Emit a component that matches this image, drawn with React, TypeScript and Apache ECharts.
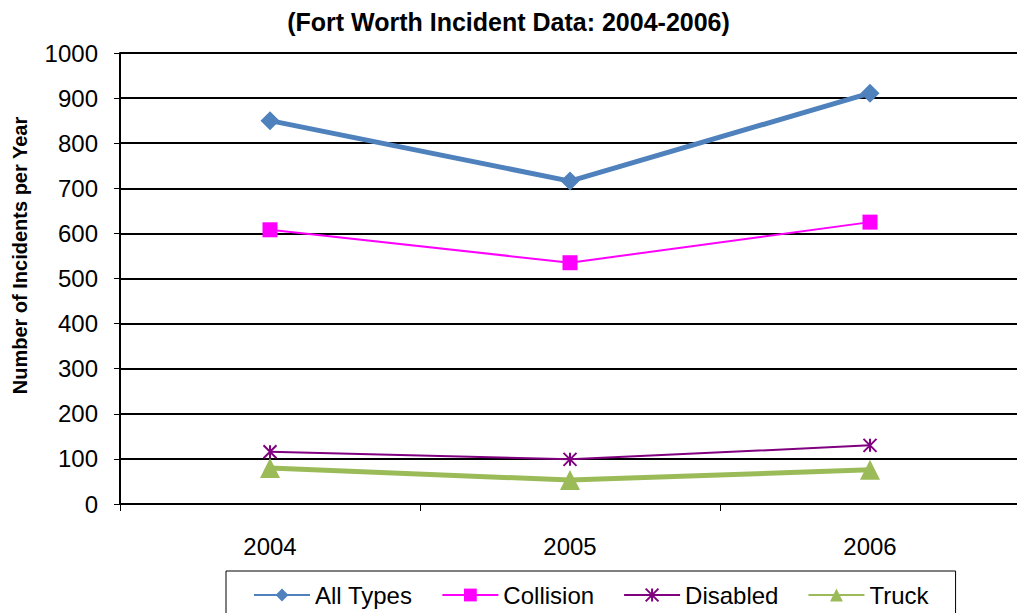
import React, { useEffect, useRef } from "react";
import * as echarts from "echarts";

const years = ["2004", "2005", "2006"];
const allTypes = [850, 716, 911];
const collision = [608, 535, 625];
const disabled = [116, 99, 130];
const truck = [80, 53, 76];
const yTicks = { min: 0, max: 1000, interval: 100 };

const FONT = "Liberation Sans, Arial, sans-serif";
const STAR = "path://M0,0L10,10M10,0L0,10M5,0L5,10";

export default function App() {
  const ref = useRef<HTMLDivElement>(null);
  useEffect(() => {
    const chart = echarts.init(ref.current!, null, { renderer: "svg" });
    chart.setOption({
      animation: false,
      backgroundColor: "#fff",
      textStyle: { fontFamily: FONT },
      title: {
        text: "(Fort Worth Incident Data: 2004-2006)",
        left: "center",
        top: 4,
        textStyle: { fontFamily: FONT, fontSize: 25, fontWeight: "bold", color: "#000" },
      },
      legend: {
        top: 571,
        left: 226,
        itemWidth: 56,
        itemHeight: 16,
        itemGap: 29,
        padding: [12, 27, 12, 27],
        borderColor: "#000",
        borderWidth: 1,
        textStyle: { fontFamily: FONT, fontSize: 24, color: "#000" },
        data: ["All Types", "Collision", "Disabled", "Truck"],
      },
      grid: { left: 120, right: -3, top: 53, bottom: 109, outerBoundsMode: "none", containLabel: false },
      xAxis: {
        type: "category",
        data: years,
        boundaryGap: true,
        axisLine: { lineStyle: { color: "#000", width: 2 } },
        axisTick: { show: true, length: 7, lineStyle: { color: "#000", width: 1 } },
        axisLabel: { fontFamily: FONT, fontSize: 24, color: "#000", margin: 30 },
        splitLine: { show: false },
      },
      yAxis: {
        type: "value",
        min: yTicks.min,
        max: yTicks.max,
        interval: yTicks.interval,
        name: "Number of Incidents per Year",
        nameLocation: "middle",
        nameGap: 90,
        nameTextStyle: {
          fontFamily: FONT,
          fontSize: 20,
          fontWeight: "bold",
          color: "#000",
          padding: [0, 0, 0, 46],
        },
        axisLine: { show: true, lineStyle: { color: "#000", width: 2 } },
        axisTick: { show: true, length: 6, lineStyle: { color: "#000" } },
        axisLabel: {
          fontFamily: FONT,
          fontSize: 24,
          color: "#000",
          margin: 22,
          formatter: (v: number) => String(v),
        },
        splitLine: { show: true, lineStyle: { color: "#000", width: 2 } },
      },
      series: [
        {
          name: "All Types",
          type: "line",
          data: allTypes,
          symbol: "diamond",
          symbolSize: 19,
          lineStyle: { color: "#4F81BD", width: 5 },
          itemStyle: { color: "#4F81BD" },
          z: 4,
        },
        {
          name: "Collision",
          type: "line",
          data: collision,
          symbol: "rect",
          symbolSize: 15,
          lineStyle: { color: "#FF00FF", width: 2 },
          itemStyle: { color: "#FF00FF" },
          z: 3,
        },
        {
          name: "Disabled",
          type: "line",
          data: disabled,
          symbol: STAR,
          symbolSize: 13,
          lineStyle: { color: "#800080", width: 2 },
          itemStyle: { color: "#800080", borderColor: "#800080", borderWidth: 2 },
          z: 3,
        },
        {
          name: "Truck",
          type: "line",
          data: truck,
          symbol: "triangle",
          symbolSize: [20, 20],
          lineStyle: { color: "#9BBB59", width: 5 },
          itemStyle: { color: "#9BBB59" },
          z: 4,
        },
      ],
    });
    return () => chart.dispose();
  }, []);
  return (
    <div
      ref={ref}
      style={{ position: "absolute", left: 0, top: 0, width: 1017, height: 613 }}
    />
  );
}
